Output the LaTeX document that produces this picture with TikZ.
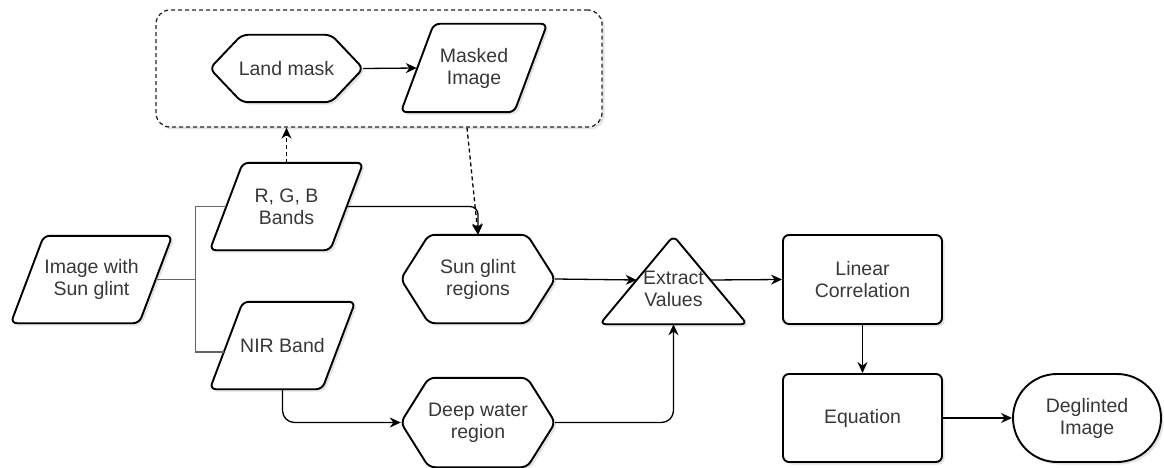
\documentclass[tikz,border=0pt]{standalone}
\usepackage{fontspec}
\setmainfont{Liberation Sans}
\usetikzlibrary{arrows.meta,calc,shadows,backgrounds}

\tikzset{
  every node/.style={font=\fontsize{19.5}{22}\selectfont, text=black!78, align=center},
  softshadow/.style={drop shadow={shadow xshift=2.5pt, shadow yshift=-2.5pt, opacity=0.22}},
  outline/.style={draw=black, line width=1.9pt, fill=white, rounded corners=6pt, line join=round, softshadow},
  databox/.style={inner sep=0pt, minimum height=87pt},
  hexbox/.style={inner sep=0pt, minimum height=88pt},
  tribox/.style={inner sep=0pt, minimum width=147pt, minimum height=88pt},
  procbox/.style={outline, rectangle, inner sep=0pt, minimum width=159pt, minimum height=88pt},
  termbox/.style={outline, rectangle, rounded corners=44pt, inner sep=0pt, minimum width=148pt, minimum height=88pt},
  groupbox/.style={draw=black!85, line width=1.3pt, dash pattern=on 4pt off 3pt, rounded corners=14pt, fill=white, softshadow, inner sep=0pt},
  conn/.style={draw=black, line width=1.3pt, -{Stealth[length=11pt, width=10pt]}},
  dashconn/.style={conn, dash pattern=on 4pt off 3pt},
  branch/.style={draw=black!60, line width=1.3pt}
}

\begin{document}
\begin{tikzpicture}[x=1pt,y=-1pt]
  \useasboundingbox (0,0) rectangle (1164,468);

  % masking step
  \node[hexbox, minimum width=153pt, minimum height=67pt] (landmask) at (286.5,68.5) {Land mask};
  \node[databox, minimum width=146pt, minimum height=88pt] (masked) at (474,68) {Masked\\Image};

  % inputs
  \node[databox, minimum width=161pt] (image) at (91.5,279.5) {Image with\\Sun glint};
  \node[databox, minimum width=153pt] (rgb) at (286.5,206.5) {R, G, B\\Bands};
  \node[databox, minimum width=145pt] (nir) at (282.5,345.5) {NIR Band};

  % regions
  \node[hexbox, minimum width=154pt] (sunglint) at (478,279) {Sun glint\\regions};
  \node[hexbox, minimum width=154pt, minimum height=89pt] (deepwater) at (478,422.5) {Deep water\\region};

  % processing
  \node[tribox] (extract) at (673.5,280) {\raisebox{-16pt}[0pt][0pt]{\begin{tabular}{@{}c@{}}Extract\\Values\end{tabular}}};
  \node[procbox, minimum height=89pt] (linear) at (862.5,279.5) {Linear\\Correlation};
  \node[procbox] (equation) at (862.5,418) {Equation};
  \node[termbox] (deglint) at (1087,418) {Deglinted\\Image};

  \begin{scope}[on background layer]
    \node[groupbox, minimum width=446pt, minimum height=117pt] (maskgroup) at (379,68.5) {};
    \foreach \n in {image,rgb,nir,masked}
      \draw[outline] (\n.south west) -- ([xshift=33pt]\n.north west) -- (\n.north east)
        -- ([xshift=-33pt]\n.south east) -- cycle;
    \foreach \n/\d in {landmask/32,sunglint/28,deepwater/28}
      \draw[outline] (\n.west) -- ([xshift=\d pt]\n.north west) -- ([xshift=-\d pt]\n.north east)
        -- (\n.east) -- ([xshift=-\d pt]\n.south east) -- ([xshift=\d pt]\n.south west) -- cycle;
    \draw[outline] (extract.south west) -- (extract.north) -- (extract.south east) -- cycle;
  \end{scope}

  % connectors
  \draw[branch] ($(image.east)+(-16,0)$) -- ++(39,0) coordinate (split);
  \draw[branch] (split) |- ($(rgb.west)+(16,0)$);
  \draw[branch] (split) |- ($(nir.west)+(14,6.5)$);
  \draw[conn] (landmask.east) -- ($(masked.west)+(16,0)$);
  \draw[dashconn] (rgb.north) -- (rgb.north |- maskgroup.south);
  \draw[dashconn] ($(maskgroup.south)+(88,0)$) -- (sunglint.north);
  \draw[conn, rounded corners=8pt] ($(rgb.east)+(-16,0)$) -| (sunglint.north);
  \draw[conn, rounded corners=12pt] (nir.south) |- (deepwater.west);
  \draw[conn] (sunglint.east) -- ($(extract.south west)!0.5!(extract.north)$);
  \draw[conn, rounded corners=12pt] (deepwater.east) -| (extract.south);
  \draw[conn] ($(extract.south east)!0.5!(extract.north)$) -- (linear.west);
  \draw[conn] (linear.south) -- (equation.north);
  \draw[conn] (equation.east) -- (deglint.west);
\end{tikzpicture}
\end{document}
